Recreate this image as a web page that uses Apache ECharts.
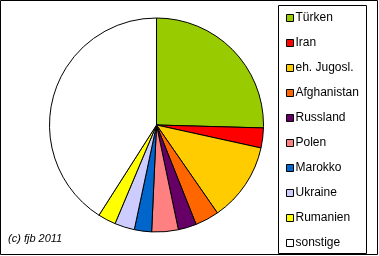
<!DOCTYPE html>
<html><head><meta charset="utf-8">
<script src="https://cdn.jsdelivr.net/npm/echarts@6/dist/echarts.min.js"></script>
<style>html,body{margin:0;padding:0;background:#fff}#c{width:379px;height:256px}</style>
</head><body><div id="c"></div>
<script>
const categories = ['Türken','Iran','eh. Jugosl.','Afghanistan','Russland','Polen','Marokko','Ukraine','Rumanien','sonstige'];
const values = [25.4, 3.0, 11.9, 3.6, 2.75, 4.0, 2.6, 3.0, 2.7, 40.9];
const colors = ['#99CC00','#FF0000','#FFCC00','#FF6600','#660066','#FF8080','#0066CC','#CCCCFF','#FFFF00','#FFFFFF'];
const credit = '(c) fjb 2011';

const chart = echarts.init(document.getElementById('c'), null, {renderer:'canvas'});
chart.setOption({
  animation:false,
  backgroundColor:'#fff',
  graphic:[
    {type:'rect', shape:{x:0.5,y:0.5,width:377,height:254}, style:{fill:'none',stroke:'#000',lineWidth:1}, z:-1},
    {type:'rect', shape:{x:278.5,y:5.5,width:88,height:248}, style:{fill:'#fff',stroke:'#000',lineWidth:1}, z:-1},
    {type:'text', left:8, top:233, style:{text:credit, font:'italic 11px "Liberation Sans", Arial, sans-serif', fill:'#000'}}
  ],
  legend:{
    orient:'vertical', left:286, top:11, padding:0,
    itemWidth:7, itemHeight:7, itemGap:11, icon:'rect',
    itemStyle:{borderColor:'#000', borderWidth:1},
    textStyle:{fontFamily:'"Liberation Sans", Arial, sans-serif', fontSize:12, color:'#000', lineHeight:14, padding:[0,0,0,-3]},
    data:categories
  },
  series:[{
    type:'pie', center:[156.5,125], radius:[0,107], startAngle:90, clockwise:true,
    label:{show:false}, labelLine:{show:false}, emphasis:{disabled:true},
    itemStyle:{borderColor:'#000', borderWidth:1},
    data:categories.map((n,i)=>({name:n, value:values[i], itemStyle:{color:colors[i]}}))
  }]
});
</script></body></html>
